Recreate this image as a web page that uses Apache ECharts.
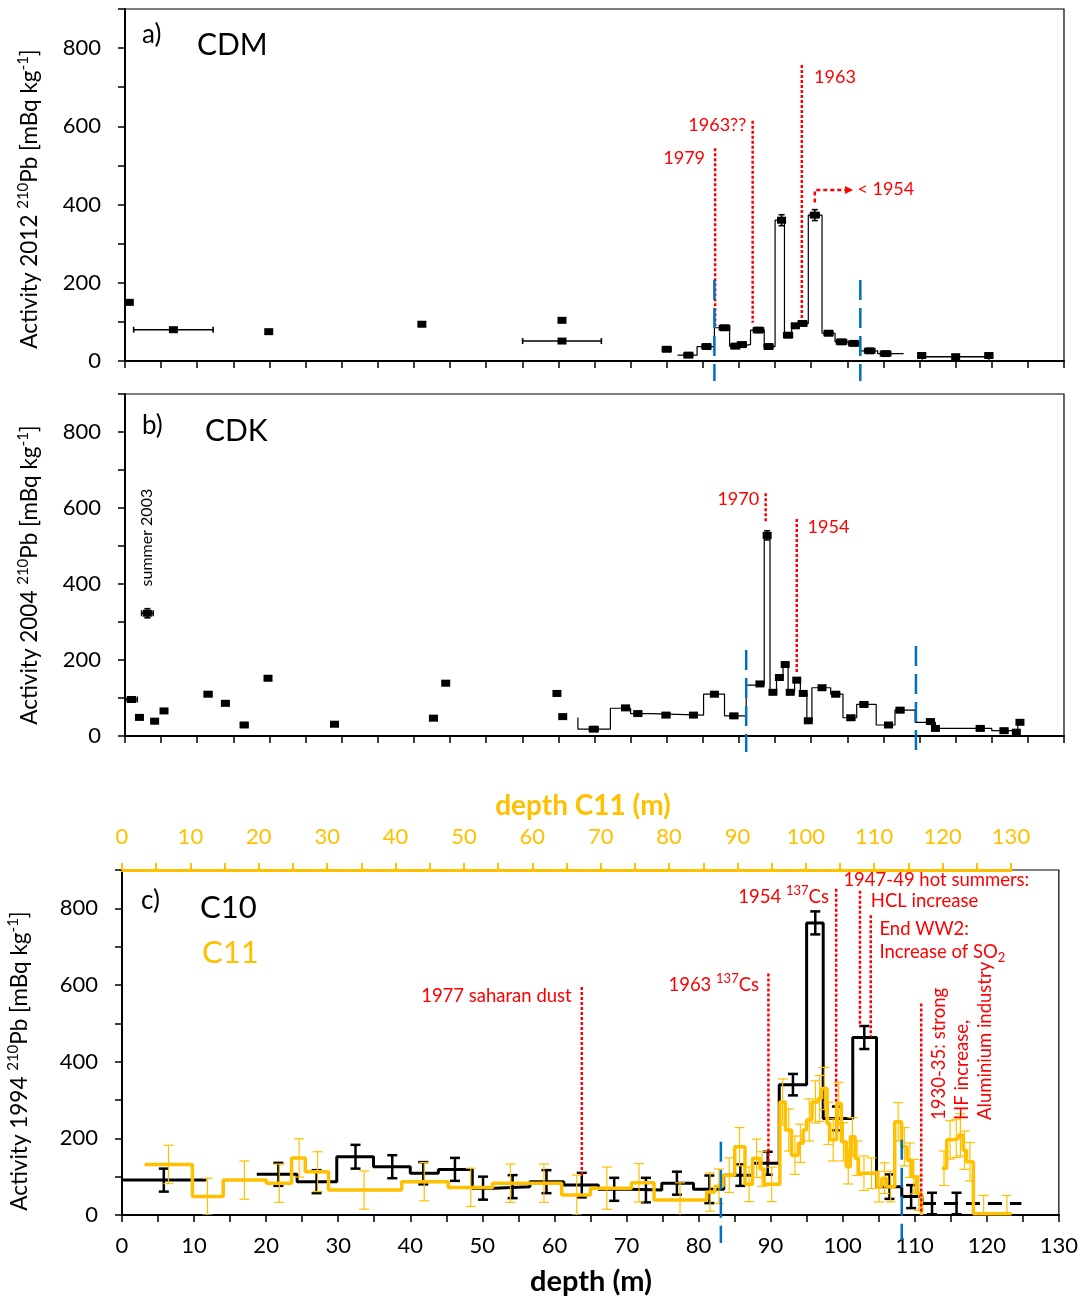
<!DOCTYPE html>
<html><head><meta charset="utf-8">
<script src="https://cdn.jsdelivr.net/npm/echarts@6/dist/echarts.min.js"></script>
<style>html,body{margin:0;padding:0;background:#fff}#c{width:1081px;height:1301px}</style>
</head><body><div id="c"></div><script>
const FONT = 'Lato, "Open Sans", sans-serif';
const RED = '#FF0000', BLUE = '#0070C0', ORANGE = '#FFC000', BLACK = '#000000';

// ---------- Panel a (CDM) ----------
const aEdges = [76.5, 79.2, 81.6, 83.7, 84.9, 86.6, 88.5, 90.0, 91.3, 92.3, 93.2, 94.6, 96.5, 98.3, 99.9, 101.8, 104.2, 107.8];
const aVals  = [15, 37, 85, 38, 42, 79, 37, 360, 66, 90, 96, 373, 71, 49, 45, 26, 19];
const aPtDepth = [0.6, 6.7, 19.9, 41.1, 60.5, 60.5, 75.0, 78.0, 80.5, 83.0, 84.5, 85.4, 87.7, 89.1, 90.9, 91.8, 92.8, 93.8, 95.5, 97.4, 99.2, 100.9, 103.1, 105.3, 110.3, 115.0, 119.6];
const aPtVal   = [150, 80, 75, 94, 104, 51, 30, 15, 37, 85, 38, 42, 79, 37, 360, 66, 90, 96, 373, 71, 49, 45, 26, 19, 14, 11, 14];
const aPtXErr  = [0.3, 5.5, 0, 0, 0, 5.45, 0.6, 0.6, 0.6, 0.7, 0.6, 0.6, 0.7, 0.6, 0.5, 0.6, 0.5, 0.6, 0.6, 0.6, 0.7, 0.7, 0.7, 0.7, 0.5, 4.6, 0.5];
const aPtYErr  = [4, 0, 0, 0, 0, 0, 0, 0, 0, 0, 0, 0, 0, 0, 14, 0, 0, 0, 14, 0, 0, 0, 0, 0, 0, 0, 0];
const aRedX = [81.7, 86.9, 93.7], aRedTop = [544, 614, 757], aRedBot = [87, 98, 109];
const aBlueX = [81.6, 101.8], aBlueTop = [207, 207], aBlueBot = [-51, -51];
const aArrowX = [95.5, 95.5, 100.8], aArrowY = [405, 437, 437];
const aLabelText = ['1979', '1963??', '1963', '< 1954'];
const aLabelX = [80.3, 86.0, 95.4, 101.4], aLabelY = [519, 604, 726, 440];
const aLabelAlign = ['right', 'right', 'left', 'left'];

// ---------- Panel b (CDK) ----------
const bEdges = [62.7, 67.2, 70.0, 72.8, 80.1, 83.0, 86.0, 88.5, 89.3, 90.2, 91.1, 91.8, 92.7, 93.5, 94.4, 95.1, 97.7, 99.4, 101.3, 104.0, 106.6, 109.4, 112.2, 120.0, 123.6];
const bVals  = [18, 73, 59, 55, 110, 53, 134, 530, 115, 154, 189, 115, 145, 112, 40, 127, 110, 48, 83, 29, 68, 36, 20, 14];
const bStart = 49, bEnd = 36;
const bPtDepth = [0.9, 2.0, 3.1, 4.1, 5.4, 11.5, 13.9, 16.5, 19.8, 29.0, 42.7, 44.4, 59.8, 60.6, 64.9, 69.3, 71.0, 74.9, 78.7, 81.6, 84.3, 87.9, 88.9, 89.7, 90.6, 91.4, 92.1, 93.0, 93.9, 94.6, 96.5, 98.4, 100.5, 102.3, 105.7, 107.3, 111.5, 112.2, 118.4, 121.7, 123.4, 123.9];
const bPtVal   = [96, 49, 323, 39, 66, 110, 86, 29, 152, 31, 47, 139, 112, 51, 18, 74, 59, 55, 55, 110, 53, 137, 528, 115, 154, 188, 115, 147, 112, 40, 127, 110, 48, 83, 29, 68, 38, 20, 20, 14, 10, 36];
const bPtXErr  = [0.8, 0.4, 0.8, 0.3, 0.4, 0.5, 0.4, 0.5, 0.3, 0.5, 0.5, 0.3, 0.3, 0.4, 0.6, 0.5, 0.5, 0.5, 0.5, 0.5, 0.5, 0.4, 0.3, 0.3, 0.3, 0.3, 0.3, 0.3, 0.3, 0.3, 0.4, 0.5, 0.5, 0.5, 0.5, 0.5, 0.5, 0.3, 0.5, 0.5, 0.3, 0.3];
const bPtYErr  = [0, 0, 12, 0, 0, 0, 0, 0, 0, 0, 0, 0, 0, 0, 0, 0, 0, 0, 0, 0, 0, 0, 12, 0, 0, 0, 0, 0, 0, 0, 0, 0, 0, 0, 0, 0, 0, 0, 0, 0, 0, 0];
const bRedX = [88.7, 93.0], bRedTop = [639, 571], bRedBot = [564, 165];
const bBlueX = [86.0, 109.5], bBlueTop = [226, 237], bBlueBot = [-42, -42];
const bLabelText = ['1970', '1954', 'summer 2003'];
const bLabelX = [87.8, 94.5, 3.05], bLabelY = [624, 550, 522];
const bLabelAlign = ['right', 'left', 'center'];

// ---------- Panel c: C10 (bottom depth axis) ----------
const c10Edges1 = [0, 11.7], c10Vals1 = [91];
const c10Edges2 = [18.7, 24.3, 29.8, 34.9, 40.0, 43.9, 48.6, 51.6, 56.6, 61.3, 66.1, 70.4, 74.9, 79.3, 83.5, 87.5, 91.2, 95.0, 97.3, 101.4, 104.7, 108.2, 111.0];
const c10Vals2  = [106, 87, 152, 126, 109, 119, 70, 74, 87, 78, 67, 65, 83, 67, 104, 135, 340, 762, 252, 463, 74, 48];
const c10End2 = 30;
const c10DashX = [111.0, 124.8], c10DashVal = [30, 30];
const c10ErrX = [5.8, 21.7, 27.0, 32.4, 37.5, 41.8, 46.2, 50.1, 54.2, 58.9, 63.8, 68.3, 72.7, 77.0, 81.5, 85.8, 89.6, 93.1, 96.2, 99.2, 103.0, 106.5, 109.5, 112.4, 115.8];
const c10ErrV = [91, 106, 87, 152, 126, 109, 119, 70, 74, 87, 78, 67, 65, 83, 67, 104, 135, 340, 762, 252, 463, 74, 48, 30, 30];
const c10ErrE = [30, 30, 30, 31, 30, 29, 30, 30, 30, 30, 32, 30, 32, 30, 36, 28, 30, 28, 30, 31, 30, 32, 30, 28, 28];

// ---------- Panel c: C11 (top depth axis) ----------
const c11Edges1 = [3.3, 10.3, 14.8, 21.1, 24.8, 26.8, 30.2, 40.9, 47.7, 54.2, 64.3, 68.5, 74.5, 77.8, 85.5, 86.7, 87.9, 89.6, 91.1, 92.2, 93.3, 93.9, 96.2, 97.0, 97.9, 98.9, 99.6, 100.1, 100.9, 101.8, 102.3, 103.1, 103.5, 104.5, 105.2, 105.9, 106.5, 107.2, 107.7, 110.4, 111.1, 111.8, 113.0, 114.0, 114.8, 115.5, 116.2, 116.9];
const c11Vals1  = [132, 48, 91, 83, 149, 113, 65, 87, 72, 83, 52, 70, 84, 39, 60, 75, 104, 178, 80, 148, 120, 80, 295, 222, 156, 187, 222, 248, 295, 304, 330, 239, 196, 291, 191, 126, 204, 148, 109, 74, 96, 74, 243, 178, 143, 100, 57];
const c11End1 = 0;
const c11Edges2 = [119.9, 120.6, 121.6, 122.3, 123.0, 123.5, 124.5, 130.1];
const c11Vals2  = [122, 196, 200, 209, 169, 139, 3];
const c11ErrX = [6.8, 12.5, 17.9, 23.0, 25.9, 28.6, 35.4, 44.2, 51.0, 56.8, 61.7, 66.5, 70.9, 75.6, 81.6, 86.0, 87.3, 88.8, 90.3, 91.7, 92.8, 93.6, 95.0, 96.6, 97.5, 98.4, 99.2, 100.5, 101.4, 102.0, 102.7, 103.3, 104.0, 104.8, 105.5, 106.2, 106.8, 107.5, 108.5, 109.6, 110.7, 111.5, 112.4, 113.5, 114.4, 115.2, 115.8, 116.5, 120.2, 121.1, 122.0, 122.6, 123.2, 124.0, 126.0, 129.4];
const c11ErrV = [132, 48, 91, 83, 149, 113, 65, 87, 72, 83, 83, 52, 70, 84, 39, 60, 75, 104, 178, 80, 148, 120, 80, 295, 222, 156, 187, 248, 295, 304, 330, 239, 196, 291, 191, 126, 204, 148, 109, 109, 74, 96, 74, 243, 178, 143, 100, 57, 122, 196, 200, 209, 169, 139, 3, 3];
const c11ErrE = [50, 48, 50, 50, 50, 52, 50, 50, 50, 50, 50, 52, 55, 50, 45, 50, 45, 45, 50, 45, 50, 45, 45, 60, 55, 50, 50, 55, 55, 60, 55, 55, 55, 55, 50, 45, 50, 45, 45, 40, 40, 40, 40, 50, 50, 45, 45, 45, 45, 50, 50, 55, 50, 50, 48, 48];

const cRedX = [63.8, 89.7, 99.1, 102.4, 103.9, 110.9];
const cRedTop = [595, 630, 851, 846, 782, 552];
const cRedBot = [104, 135, 291, 491, 465, 5];
const cBlueX = [83.1, 108.2], cBlueTop = [191, 196], cBlueBot = [-73, -65];
const cLabelText = ['{n|1977 saharan dust}', '{n|1963 }{s|137}{n|Cs}', '{n|1954 }{s|137}{n|Cs}', '{n|1947-49 hot summers:}', '{n|HCL increase}', '{n|End WW2:}', '{n|Increase of SO}{b|2}', '{n|1930-35: strong}', '{n|HF increase,}', '{n|Aluminium industry}'];
const cLabelX = [62.4, 88.4, 98.1, 100.1, 103.9, 105.1, 105.1, 113.4, 116.6, 119.8];
const cLabelY = [571, 600, 829, 873, 819, 746, 686, 248, 248, 248];
const cLabelAlign = ['right', 'right', 'right', 'left', 'left', 'left', 'left', 'left', 'left', 'left'];
const cLabelRot = [0, 0, 0, 0, 0, 0, 0, 1, 1, 1];

// ---------- helpers ----------
function stepPts(edges, vals, startVal, endVal) {
  const p = [];
  if (startVal != null) p.push([edges[0], startVal]);
  for (let i = 0; i < vals.length; i++) { p.push([edges[i], vals[i]]); p.push([edges[i + 1], vals[i]]); }
  if (endVal != null) p.push([edges[edges.length - 1], endVal]);
  return p;
}
function lineSeries(xi, yi, data, color, width, type, z) {
  return { type: 'line', xAxisIndex: xi, yAxisIndex: yi, data, symbol: 'none', showSymbol: false, silent: true, z,
    lineStyle: { color, width, type: type || 'solid' }, animation: false };
}
function richFor(size, color) {
  const s = Math.round(size * 0.68);
  return {
    n: { fontSize: size, lineHeight: size + 7, fill: color, color, fontFamily: FONT, verticalAlign: 'middle' },
    s: { fontSize: s, lineHeight: s, fill: color, color, fontFamily: FONT, verticalAlign: 'top' },
    b: { fontSize: s, lineHeight: s, fill: color, color, fontFamily: FONT, verticalAlign: 'bottom' }
  };
}
function errSeries(xi, yi, xs, ys, xe, ye, o) {
  return { type: 'custom', xAxisIndex: xi, yAxisIndex: yi, clip: !!o.clip, silent: true, z: o.z, animation: false,
    data: xs.map((x, i) => [x, ys[i], xe[i], ye[i]]),
    renderItem(params, api) {
      const x = api.value(0), y = api.value(1), ex = api.value(2), ey = api.value(3);
      const c = api.coord([x, y]);
      const st = { stroke: o.color, lineWidth: o.lw };
      const ch = [];
      if (ex > 0) {
        const l = api.coord([x - ex, y])[0], r = api.coord([x + ex, y])[0];
        ch.push({ type: 'line', shape: { x1: l, y1: c[1], x2: r, y2: c[1] }, style: st });
        ch.push({ type: 'line', shape: { x1: l, y1: c[1] - o.cap, x2: l, y2: c[1] + o.cap }, style: st });
        ch.push({ type: 'line', shape: { x1: r, y1: c[1] - o.cap, x2: r, y2: c[1] + o.cap }, style: st });
      }
      if (ey > 0) {
        const t = api.coord([x, y + ey])[1], b = api.coord([x, y - ey])[1];
        ch.push({ type: 'line', shape: { x1: c[0], y1: t, x2: c[0], y2: b }, style: st });
        ch.push({ type: 'line', shape: { x1: c[0] - o.cap, y1: t, x2: c[0] + o.cap, y2: t }, style: st });
        ch.push({ type: 'line', shape: { x1: c[0] - o.cap, y1: b, x2: c[0] + o.cap, y2: b }, style: st });
      }
      if (o.box) ch.push({ type: 'rect', shape: { x: c[0] - o.box[0] / 2, y: c[1] - o.box[1] / 2, width: o.box[0], height: o.box[1] }, style: { fill: o.color } });
      return { type: 'group', children: ch };
    } };
}
function vlines(xi, yi, xs, tops, bots, color, lw, dash, z) {
  return { type: 'custom', xAxisIndex: xi, yAxisIndex: yi, clip: false, silent: true, z, animation: false,
    data: xs.map((x, i) => [x, tops[i], bots[i]]),
    renderItem(params, api) {
      const a = api.coord([api.value(0), api.value(1)]), b = api.coord([api.value(0), api.value(2)]);
      return { type: 'line', shape: { x1: a[0], y1: a[1], x2: b[0], y2: b[1] }, style: { stroke: color, lineWidth: lw, lineDash: dash } };
    } };
}
function labels(xi, yi, xs, ys, texts, aligns, o) {
  return { type: 'custom', xAxisIndex: xi, yAxisIndex: yi, clip: false, silent: true, z: 20, animation: false,
    data: xs.map((x, i) => [x, ys[i]]),
    renderItem(params, api) {
      const i = params.dataIndex;
      const c = api.coord([api.value(0), api.value(1)]);
      const rot = o.rot ? o.rot[i] : 0;
      const size = o.sizes ? o.sizes[i] : o.size;
      const col = o.colors ? o.colors[i] : o.color;
      return { type: 'text', x: c[0], y: c[1], rotation: rot ? Math.PI / 2 : 0,
        style: { text: texts[i], align: aligns[i], verticalAlign: 'middle', fill: col, fontSize: size, fontFamily: FONT, rich: richFor(size, col) } };
    } };
}

// ---------- axes ----------
function xAx(grid, opts) {
  return Object.assign({ gridIndex: grid, type: 'value', min: 0, max: 130, interval: 5,
    axisLine: { onZero: false, lineStyle: { color: BLACK, width: 2 } },
    axisTick: { length: 7, lineStyle: { color: BLACK, width: 1.5 } },
    axisLabel: { show: false }, splitLine: { show: false } }, opts || {});
}
function yAx(grid, opts) {
  return Object.assign({ gridIndex: grid, type: 'value', min: 0, max: 900, interval: 100,
    axisLine: { show: true, onZero: false, lineStyle: { color: BLACK, width: 2 } },
    axisTick: { show: true, length: 7, lineStyle: { color: BLACK, width: 1.5 } },
    axisLabel: { fontSize: 22, color: BLACK, fontFamily: FONT, margin: 24, formatter: v => (v % 200 === 0 && v <= 800) ? String(v) : '' },
    splitLine: { show: false } }, opts || {});
}

const axRich = richFor(22.5, BLACK);

const option = {
  animation: false,
  backgroundColor: '#ffffff',
  grid: [
    { left: 125, top: 9, width: 939, height: 352, show: true, borderColor: BLACK, borderWidth: 1.2 },
    { left: 125, top: 394, width: 939, height: 342, show: true, borderColor: BLACK, borderWidth: 1.2 },
    { left: 122, top: 870, width: 938, height: 345, show: true, borderColor: BLACK, borderWidth: 1.2 },
    { left: 122, top: 870, width: 889, height: 345, show: false }
  ],
  xAxis: [
    xAx(0), xAx(1),
    xAx(2, { axisLabel: { show: true, fontSize: 22, color: BLACK, fontFamily: FONT, margin: 20, formatter: v => v % 10 === 0 ? String(v) : '' } }),
    xAx(3, { position: 'top', axisLine: { onZero: false, lineStyle: { color: ORANGE, width: 3 } },
      axisTick: { length: 7, lineStyle: { color: ORANGE, width: 2 } },
      axisLabel: { show: true, fontSize: 22, color: ORANGE, fontFamily: FONT, margin: 22, formatter: v => v % 10 === 0 ? String(v) : '' } })
  ],
  yAxis: [ yAx(0), yAx(1), yAx(2), yAx(3, { show: false }) ],
  graphic: [
    { type: 'text', x: 30, y: 199, rotation: Math.PI / 2, style: { text: '{n|Activity 2012 }{s|210}{n|Pb [mBq kg}{s|-1}{n|]}', rich: axRich, align: 'center', verticalAlign: 'middle', fill: BLACK } },
    { type: 'text', x: 30, y: 575, rotation: Math.PI / 2, style: { text: '{n|Activity 2004 }{s|210}{n|Pb [mBq kg}{s|-1}{n|]}', rich: axRich, align: 'center', verticalAlign: 'middle', fill: BLACK } },
    { type: 'text', x: 20, y: 1061, rotation: Math.PI / 2, style: { text: '{n|Activity 1994 }{s|210}{n|Pb [mBq kg}{s|-1}{n|]}', rich: axRich, align: 'center', verticalAlign: 'middle', fill: BLACK } },
    { type: 'text', x: 142, y: 35, style: { text: 'a)', fontSize: 26, fontFamily: FONT, fill: BLACK, verticalAlign: 'middle' } },
    { type: 'text', x: 197, y: 45, style: { text: 'CDM', fontSize: 30, fontFamily: FONT, fill: BLACK, verticalAlign: 'middle' } },
    { type: 'text', x: 142, y: 426, style: { text: 'b)', fontSize: 26, fontFamily: FONT, fill: BLACK, verticalAlign: 'middle' } },
    { type: 'text', x: 205, y: 431, style: { text: 'CDK', fontSize: 30, fontFamily: FONT, fill: BLACK, verticalAlign: 'middle' } },
    { type: 'text', x: 141, y: 901, style: { text: 'c)', fontSize: 26, fontFamily: FONT, fill: BLACK, verticalAlign: 'middle' } },
    { type: 'text', x: 200, y: 908, style: { text: 'C10', fontSize: 31, fontFamily: FONT, fill: BLACK, verticalAlign: 'middle' } },
    { type: 'text', x: 202, y: 953, style: { text: 'C11', fontSize: 31, fontFamily: FONT, fill: ORANGE, verticalAlign: 'middle' } },
    { type: 'text', x: 583, y: 806, style: { text: 'depth C11 (m)', fontSize: 28, fontWeight: 'bold', fontFamily: FONT, fill: ORANGE, align: 'center', verticalAlign: 'middle' } },
    { type: 'text', x: 591, y: 1282, style: { text: 'depth (m)', fontSize: 29, fontWeight: 'bold', fontFamily: FONT, fill: BLACK, align: 'center', verticalAlign: 'middle' } }
  ],
  series: [
    // panel a
    lineSeries(0, 0, stepPts(aEdges, aVals), BLACK, 1.2, 'solid', 3),
    errSeries(0, 0, aPtDepth, aPtVal, aPtXErr, aPtYErr, { color: BLACK, lw: 1.6, cap: 3, box: [9, 7], z: 5 }),
    vlines(0, 0, aRedX, aRedTop, aRedBot, RED, 2.5, [3, 2], 8),
    vlines(0, 0, aBlueX, aBlueTop, aBlueBot, BLUE, 2.5, [20, 8], 9),
    { type: 'custom', xAxisIndex: 0, yAxisIndex: 0, clip: false, silent: true, z: 8, animation: false,
      data: [[aArrowX[0], aArrowY[0]]],
      renderItem(params, api) {
        const p = aArrowX.map((x, i) => api.coord([x, aArrowY[i]]));
        const tip = p[p.length - 1];
        const line = p.slice(0, -1).concat([[tip[0] - 7, tip[1]]]);
        return { type: 'group', children: [
          { type: 'polyline', shape: { points: line }, style: { stroke: RED, lineWidth: 2.5, lineDash: [4, 3], fill: null } },
          { type: 'polygon', shape: { points: [[tip[0], tip[1]], [tip[0] - 8, tip[1] - 4], [tip[0] - 8, tip[1] + 4]] }, style: { fill: RED } }
        ] };
      } },
    labels(0, 0, aLabelX, aLabelY, aLabelText, aLabelAlign, { size: 18, color: RED }),
    // panel b
    lineSeries(1, 1, stepPts(bEdges, bVals, bStart, bEnd), BLACK, 1.2, 'solid', 3),
    errSeries(1, 1, bPtDepth, bPtVal, bPtXErr, bPtYErr, { color: BLACK, lw: 1.6, cap: 3, box: [9, 7], z: 5 }),
    vlines(1, 1, bRedX, bRedTop, bRedBot, RED, 2.5, [3, 2], 8),
    vlines(1, 1, bBlueX, bBlueTop, bBlueBot, BLUE, 2.5, [20, 8], 9),
    labels(1, 1, bLabelX, bLabelY, bLabelText, bLabelAlign, { sizes: [18, 18, 16], colors: [RED, RED, BLACK], rot: [0, 0, 1] }),
    // panel c: C10
    lineSeries(2, 2, stepPts(c10Edges1, c10Vals1), BLACK, 3, 'solid', 3),
    lineSeries(2, 2, stepPts(c10Edges2, c10Vals2, null, c10End2), BLACK, 3, 'solid', 3),
    lineSeries(2, 2, c10DashX.map((x, i) => [x, c10DashVal[i]]), BLACK, 3, [14, 8], 3),
    errSeries(2, 2, c10ErrX, c10ErrV, c10ErrX.map(() => 0), c10ErrE, { color: BLACK, lw: 2.5, cap: 5, z: 4, clip: true }),
    // panel c: C11
    lineSeries(3, 3, stepPts(c11Edges1, c11Vals1, null, c11End1), ORANGE, 3.5, 'solid', 6),
    lineSeries(3, 3, stepPts(c11Edges2, c11Vals2), ORANGE, 3.5, 'solid', 6),
    errSeries(3, 3, c11ErrX, c11ErrV, c11ErrX.map(() => 0), c11ErrE, { color: ORANGE, lw: 1.2, cap: 5, z: 6, clip: true }),
    vlines(2, 2, cRedX, cRedTop, cRedBot, RED, 2.5, [3, 2], 8),
    vlines(2, 2, cBlueX, cBlueTop, cBlueBot, BLUE, 2.5, [20, 8], 9),
    labels(2, 2, cLabelX, cLabelY, cLabelText, cLabelAlign, { size: 18.5, color: RED, rot: cLabelRot })
  ]
};
const chart = echarts.init(document.getElementById('c'), null, { renderer: 'canvas' });
chart.setOption(option);
</script></body></html>
